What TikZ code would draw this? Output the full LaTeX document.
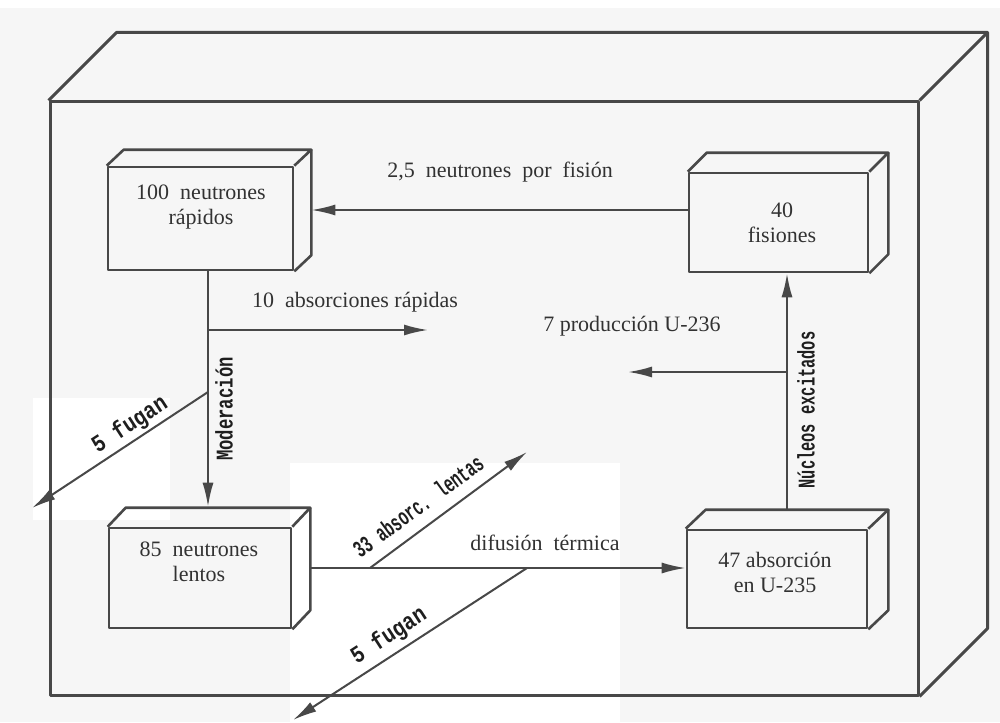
\documentclass[tikz,border=0pt]{standalone}
\usepackage{fontspec}
\setmainfont{Liberation Serif}
\newfontfamily\monoA{Liberation Mono}[FakeStretch=0.72]
\newfontfamily\monoB{Liberation Mono}[FakeStretch=0.64]
\newfontfamily\monoC{Liberation Mono}[FakeStretch=0.84]
\newfontfamily\monoD{Liberation Mono}[FakeStretch=0.62]
\usetikzlibrary{calc,arrows.meta}
\definecolor{linec}{RGB}{72,72,72}
\definecolor{txtc}{RGB}{50,50,50}
\definecolor{labc}{RGB}{30,30,30}
\definecolor{bgc}{RGB}{246,246,246}
\tikzset{
  boxline/.style={draw=linec, line width=1.3pt, line join=round},
  outerline/.style={draw=linec, line width=1.5pt, line join=round},
  box/.style={boxline, rectangle, inner sep=0pt},
  arr/.style={draw=linec, line width=1pt, -{Latex[length=12pt,width=5.5pt]}},
  txt/.style={font=\fontsize{11}{12.5}\selectfont, text=txtc, align=center, inner sep=0pt},
  mlab/.style={font=#1\bfseries\fontsize{12}{12}\selectfont, text=labc, inner sep=0pt}
}
\newcommand{\depthfaces}[4][boxline]{%
  \draw[#1] (#2.north west) -- ++(#3,-#4) -- ($(#2.north east)+(#3,-#4)$) -- (#2.north east);
  \draw[#1] ($(#2.north east)+(#3,-#4)$) -- ($(#2.south east)+(#3,-#4)$) -- (#2.south east);
}
\begin{document}
\begin{tikzpicture}[x=0.5pt,y=-0.5pt]
\useasboundingbox (0,0) rectangle (1000,722);
% background of the scan
\fill[bgc] (0,0) rectangle (1000,722);
\fill[white] (0,0) rectangle (1000,8);
\fill[white] (33,398) rectangle (170,520);
\fill[white] (290,463) rectangle (620,722);

% outer container
\node[outerline, rectangle, inner sep=0pt, minimum width=434pt, minimum height=296.5pt] (outer) at (484,398.5) {};
\depthfaces[outerline]{outer}{68}{68}

% boxes
\node[box, minimum width=92.5pt, minimum height=51.5pt] (b1) at (200.5,218.5) {};
\depthfaces{b1}{17}{16}
\node[box, minimum width=89.5pt, minimum height=49.5pt] (b40) at (778.5,222.5) {};
\depthfaces{b40}{19}{19}
\node[box, minimum width=91pt, minimum height=50pt] (b85) at (200,578) {};
\depthfaces{b85}{18}{19}
\node[box, minimum width=90pt, minimum height=49pt] (b47) at (777,579) {};
\depthfaces{b47}{20}{19}

% box texts
\node[txt] (t1) at (201,207.5) {100\enspace neutrones\\rápidos};
\node[txt] (t40) at (782,222.5) {40\\fisiones};
\node[txt] (t85) at (199,561.5) {85\enspace neutrones\\lentos};
\node[txt] (t47) at (775,572.5) {47 absorción\\en U-235};

% helper coordinates
\coordinate (f1) at ([yshift=6.25pt]b40.west);
\coordinate (b1s) at ([xshift=8.5pt]b1.east);
\coordinate (m1) at ([xshift=3.75pt]b1.south);
\coordinate (m2) at ([yshift=10pt]b85.north);
\coordinate (r10) at (428,330);
\coordinate (q392) at (0,392);
\coordinate (fu1) at (32,508);
\coordinate (d1) at ([yshift=5.5pt]b47.west);
\coordinate (s85) at ([xshift=9pt]b85.east);
\coordinate (q370) at (370,0);
\coordinate (a33) at (527,452);
\coordinate (q527) at (527,0);
\coordinate (fu2) at (293,720);
\coordinate (v1) at ([xshift=5pt,yshift=9.5pt]b47.north);
\coordinate (q372) at (0,372);
\coordinate (p7) at (628,372);

% connectors
\draw[arr] (f1) -- (f1 -| b1s);
\draw[arr] (m1) -- (m1 |- m2);
\draw[arr] (m1 |- r10) -- (r10);
\draw[arr] (m1 |- q392) -- (fu1);
\draw[arr] (d1 -| s85) -- (d1);
\draw[arr] (d1 -| q370) -- (a33);
\draw[arr] (d1 -| q527) -- (fu2);
\draw[arr] (v1) -- (v1 |- b40.south);
\draw[arr] (v1 |- q372) -- (p7);

% labels
\node[txt] (l25) at (500,172) {2,5\enspace neutrones\enspace por\enspace fisión};
\node[txt] (l10) at (355,302) {10\enspace absorciones rápidas};
\node[txt] (l7) at (632,326) {7 producción U-236};
\node[txt] (ldt) at (545,543) {difusión\enspace térmica};
\node[mlab=\monoA, rotate=90] (lmod) at (224,409) {Moderación};
\node[mlab=\monoB, rotate=90] (lnuc) at (806,410) {Núcleos excitados};
\node[mlab=\monoC, rotate=33] (lf1) at (130,425) {5 fugan};
\node[mlab=\monoD, rotate=36] (l33) at (418,506) {33 absorc. lentas};
\node[mlab=\monoC, rotate=33] (lf2) at (389,636) {5 fugan};
\end{tikzpicture}
\end{document}
